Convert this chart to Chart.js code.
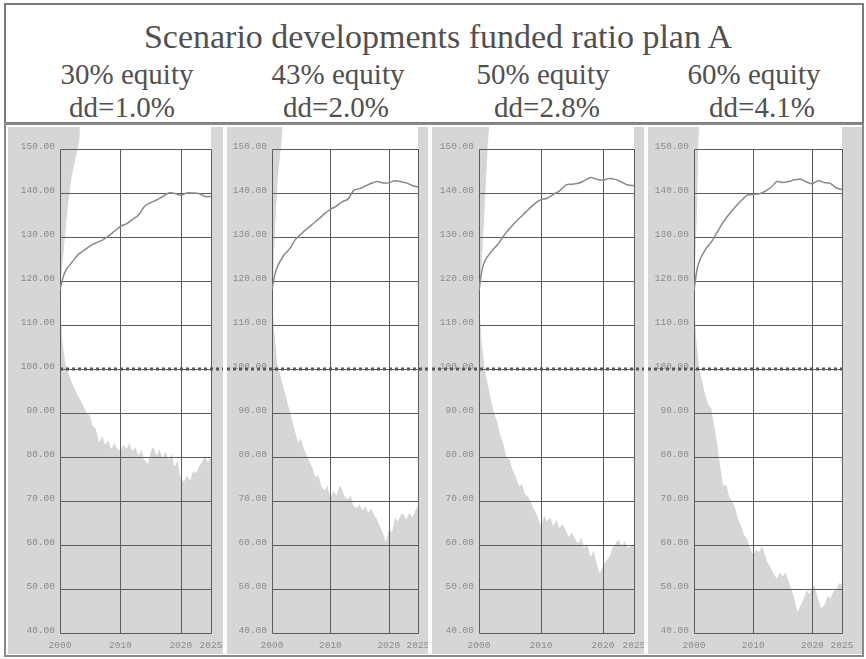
<!DOCTYPE html>
<html>
<head>
<meta charset="utf-8">
<script src="https://cdn.jsdelivr.net/npm/chart.js"></script>
<style>
  body { margin: 0; background: #fff; }
  #fig { position: relative; width: 866px; height: 659px; overflow: hidden; }
  .box { position: absolute; box-sizing: border-box; }
  .txt { position: absolute; width: 260px; text-align: center; color: #505050; white-space: nowrap;
         font-family: "Liberation Serif", "Times New Roman", Tinos, "Noto Serif", "DejaVu Serif", Times, serif; }
  canvas { position: absolute; background: #d6d6d6; }
</style>
</head>
<body>
<div id="fig">
  <div class="box" style="left:4px;top:3px;width:860px;height:121px;border:2px solid #7c7c7c;"></div>
  <div class="box" style="left:4px;top:123px;width:860px;height:534px;border:2px solid #8a8a8a;"></div>
  <div class="txt" style="left:108px;top:20px;width:660px;font-size:34px;line-height:34px;">Scenario developments funded ratio plan A</div>
  <div id="heads"></div>
  <canvas id="c0"></canvas>
  <canvas id="c1"></canvas>
  <canvas id="c2"></canvas>
  <canvas id="c3"></canvas>
</div>
<script>
// years for the median lines
const years = [2000, 2000.5, 2001, 2002, 2003, 2004, 2005, 2006, 2007, 2008, 2009, 2010, 2011, 2012,
  2013, 2014, 2015, 2016, 2017, 2018, 2019, 2020, 2021, 2022, 2023, 2024, 2025];

// median funded ratio per plan
const median30 = [118, 120.8, 122.5, 124.3, 126, 127, 128, 128.7, 129.3, 130.2, 131.3, 132.4, 133, 134,
  135, 137, 137.8, 138.4, 139.2, 140, 139.9, 139.5, 140, 140, 139.9, 139.2, 139.2];
const median43 = [118, 121.5, 123.5, 125.8, 127.3, 129.4, 130.7, 131.9, 133, 134.1, 135.3, 136.3, 137, 138,
  138.6, 140.6, 141, 141.6, 142.2, 142.6, 142.3, 142.3, 142.8, 142.6, 142.3, 141.7, 141.4];
const median50 = [117.8, 122.6, 124.7, 126.7, 128.3, 130.3, 132, 133.6, 134.9, 136.3, 137.6, 138.5, 138.8, 139.7,
  140.5, 141.8, 142, 142.2, 142.8, 143.5, 143.1, 142.9, 143.3, 143.1, 142.5, 141.8, 141.7];
const median60 = [117.8, 122.5, 124.8, 127.3, 129, 131.3, 133.5, 135.3, 136.9, 138.3, 139.5, 139.7, 139.8, 140.4,
  141.3, 142.6, 142.4, 142.6, 143, 143.1, 142.5, 142.1, 142.8, 142.4, 142.2, 141.2, 140.8];

// half-year points for the lowest scenario paths (lower edge of the white cloud)
const lowYears = [2000, 2000.5, 2001, 2001.5, 2002, 2002.5, 2003, 2003.5, 2004, 2004.5,
  2005, 2005.5, 2006, 2006.5, 2007, 2007.5, 2008, 2008.5, 2009, 2009.5,
  2010, 2010.5, 2011, 2011.5, 2012, 2012.5, 2013, 2013.5, 2014, 2014.5,
  2015, 2015.5, 2016, 2016.5, 2017, 2017.5, 2018, 2018.5, 2019, 2019.5,
  2020, 2020.5, 2021, 2021.5, 2022, 2022.5, 2023, 2023.5, 2024, 2024.5, 2025];
const low30 = [118, 106, 101, 99, 97, 95.5, 94, 93, 91.5, 90,
  89.5, 87, 86.5, 83.5, 85, 83, 84, 82, 83.5, 82,
  81.5, 83, 82, 83.5, 81.5, 82.5, 80.5, 82, 79.5, 78.5,
  81.5, 82.5, 80.5, 82, 80, 81.5, 79.5, 81, 78, 79.5,
  75.5, 74.5, 76, 74.8, 77, 76.5, 78, 79, 80.5, 79, 80];
const low43 = [118, 108, 101, 98.5, 96, 93.5, 91, 88.5, 86, 83.5,
  84.5, 82, 80.5, 79, 77.5, 75.5, 76, 73.5, 72.5, 74,
  71, 72.5, 71.5, 73.5, 73, 71, 70.5, 71.5, 69, 68.5,
  69.5, 68, 69, 67.5, 68.5, 67, 66, 64.5, 63, 61,
  64, 63, 66.5, 65.5, 67, 67.2, 66, 67.5, 66.5, 68, 69];
const low50 = [118, 106, 100, 96.5, 93, 90, 88, 85, 83, 80,
  79.5, 77, 75.5, 73.5, 74, 71.5, 71, 69.5, 68, 66.5,
  64.5, 67, 65.5, 66.5, 64.5, 66, 64, 65, 63.5, 62,
  63, 61.5, 60.5, 62, 59.5, 60.5, 57.5, 59, 56, 53.8,
  55.5, 56.5, 57.5, 59.5, 60.5, 61.4, 60, 61, 59.5, 59.8, 60.5];
const low60 = [118, 106, 100, 97, 94, 92, 91, 87, 83, 78,
  73.5, 74, 71, 70, 68.5, 66, 64.5, 62.4, 61.5, 59.5,
  58, 59, 58.5, 60, 58, 56, 55, 53.5, 52.5, 54,
  53, 54, 52, 50, 48, 45, 46.5, 48, 50, 49,
  51, 50.5, 48, 45.7, 46.5, 48.5, 48, 49.5, 50, 51.5, 51];

// highest scenario paths (upper edge, runs off the top)
const upYears30 = [2000, 2000.3, 2001.3, 2002, 2003.3, 2003.5, 2025];
const up30 = [118, 121, 136, 143.6, 152, 160, 165];
const upYears43 = [2000, 2000.3, 2000.6, 2001.1, 2001.7, 2002.2, 2025];
const up43 = [118, 121, 132, 143.8, 151.6, 160, 165];
const upYears50 = [2000, 2000.4, 2001, 2001.5, 2002, 2025];
const up50 = [118, 121, 137, 151, 160, 165];
const upYears60 = [2000, 2000.2, 2000.6, 2000.8, 2001.2, 2025];
const up60 = [118, 121, 136, 151, 160, 165];

const equity = ["30% equity", "43% equity", "50% equity", "60% equity"];
const dd = ["dd=1.0%", "dd=2.0%", "dd=2.8%", "dd=4.1%"];
const xTicks = [2000, 2010, 2020, 2025];
const yTicks = [40, 50, 60, 70, 80, 90, 100, 110, 120, 130, 140, 150];
const refLevel = 100;

const plans = [
  { median: median30, low: low30, upX: upYears30, up: up30 },
  { median: median43, low: low43, upX: upYears43, up: up43 },
  { median: median50, low: low50, upX: upYears50, up: up50 },
  { median: median60, low: low60, upX: upYears60, up: up60 }
];

// panel frames: canvas position, y-axis width, right padding
const panels = [
  { left: 8, width: 215, axisW: 52, padR: 12 },
  { left: 227, width: 201, axisW: 45, padR: 10 },
  { left: 432, width: 212, axisW: 47, padR: 10 },
  { left: 648, width: 214, axisW: 46, padR: 20 }
];
const headX = [[127, 122], [338, 336], [543, 547], [754, 762]];

const heads = document.getElementById("heads");
equity.forEach((t, i) => {
  heads.innerHTML += `<div class="txt" style="left:${headX[i][0] - 130}px;top:60px;font-size:29px;line-height:29px;">${t}</div>`;
  heads.innerHTML += `<div class="txt" style="left:${headX[i][1] - 130}px;top:93px;font-size:29px;line-height:29px;">${dd[i]}</div>`;
});

const pts = (xs, ys) => xs.map((x, i) => ({ x: x, y: ys[i] }));

// grid drawn over the cloud, only inside the 2000-2025 / 40-150 frame
const frameGrid = {
  id: "frameGrid",
  beforeDatasetDraw(chart, args) {
    if (args.index !== 0) return;
    const ctx = chart.ctx, xs = chart.scales.x, ys = chart.scales.y;
    const xl = Math.round(xs.getPixelForValue(xTicks[0])) + 0.5;
    const xr = Math.round(xs.getPixelForValue(xTicks[xTicks.length - 1])) + 0.5;
    const yt = Math.round(ys.getPixelForValue(yTicks[yTicks.length - 1])) + 0.5;
    const yb = Math.round(ys.getPixelForValue(yTicks[0])) + 0.5;
    ctx.save();
    ctx.strokeStyle = "#5c5c5c";
    ctx.lineWidth = 1;
    ctx.beginPath();
    yTicks.forEach(v => {
      const y = Math.round(ys.getPixelForValue(v)) + 0.5;
      ctx.moveTo(xl, y); ctx.lineTo(xr, y);
    });
    xTicks.forEach(v => {
      const x = Math.round(xs.getPixelForValue(v)) + 0.5;
      ctx.moveTo(x, yt); ctx.lineTo(x, yb);
    });
    ctx.stroke();
    ctx.restore();
  }
};

// dotted 100% line, runs across the panels
const refLine = {
  id: "refLine",
  afterDraw(chart) {
    const ctx = chart.ctx, ys = chart.scales.y, i = chart.options.plugins.refLine.idx;
    const y = Math.round(ys.getPixelForValue(refLevel));
    const x0 = i === 0 ? chart.chartArea.left : 0;
    const x1 = i === 3 ? chart.chartArea.right : chart.width;
    ctx.save();
    ctx.strokeStyle = "#555";
    ctx.lineWidth = 3;
    ctx.setLineDash([3, 3]);
    ctx.beginPath();
    ctx.moveTo(x0, y); ctx.lineTo(x1, y);
    ctx.stroke();
    ctx.restore();
  }
};

const tickFont = { family: "'Liberation Mono', 'DejaVu Sans Mono', monospace", size: 9.5 };

plans.forEach((p, i) => {
  const pn = panels[i];
  const cv = document.getElementById("c" + i);
  cv.width = pn.width; cv.height = 527;
  cv.style.left = pn.left + "px"; cv.style.top = "127px";
  new Chart(cv, {
    type: "line",
    data: {
      datasets: [
        { data: pts(years, p.median), borderColor: "#8a8a8a", borderWidth: 1.5, pointRadius: 0, tension: 0.3, fill: false },
        { data: pts(p.upX, p.up), borderColor: "#fff", borderWidth: 1, pointRadius: 0, tension: 0, fill: false },
        { data: pts(lowYears, p.low), borderColor: "#fff", borderWidth: 1, pointRadius: 0, tension: 0,
          fill: 1, backgroundColor: "#fff" }
      ]
    },
    options: {
      responsive: false,
      animation: false,
      events: [],
      layout: { padding: { left: 0, right: pn.padR, top: 0, bottom: 3 } },
      plugins: { legend: { display: false }, tooltip: { enabled: false }, refLine: { idx: i } },
      scales: {
        x: {
          type: "linear", min: 2000, max: 2025,
          grid: { display: false, drawTicks: false }, border: { display: false },
          afterBuildTicks: s => { s.ticks = xTicks.map(v => ({ value: v })); },
          afterFit: s => { s.height = 18; s.paddingLeft = 0; s.paddingRight = 0; },
          ticks: { autoSkip: false, maxRotation: 0, padding: 7, color: "#8c8c8c", font: tickFont,
            callback: v => String(v) }
        },
        y: {
          min: 40, max: 155,
          grid: { display: false, drawTicks: false }, border: { display: false },
          afterBuildTicks: s => { s.ticks = yTicks.map(v => ({ value: v })); },
          afterFit: s => { s.width = pn.axisW; s.paddingTop = 0; s.paddingBottom = 0; },
          ticks: { autoSkip: false, padding: 5, labelOffset: -3, color: "#8c8c8c", font: tickFont,
            callback: v => Number(v).toFixed(2) }
        }
      }
    },
    plugins: [frameGrid, refLine]
  });
});
</script>
</body>
</html>
